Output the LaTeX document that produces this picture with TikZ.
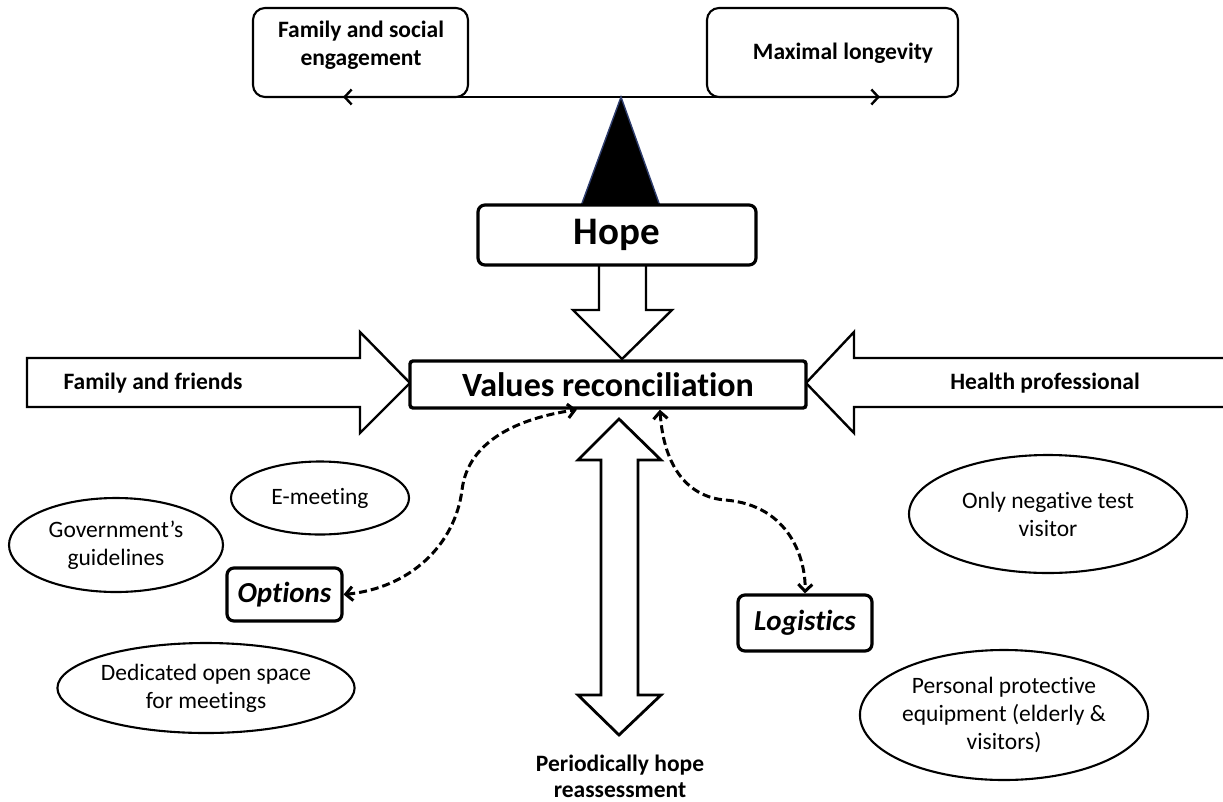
\documentclass[tikz,border=0pt]{standalone}
\usepackage{fontspec}
\setmainfont{Carlito}[Ligatures=NoCommon]
\usetikzlibrary{shapes.geometric,arrows.meta,calc}
\definecolor{tribd}{RGB}{47,62,110}
\begin{document}
\begin{tikzpicture}[x=1pt,y=-1pt,
  topbox/.style={draw, line width=2.1pt, rounded corners=12pt, inner sep=0pt},
  keybox/.style={draw, fill=white, line width=3.2pt, rounded corners=7pt, inner sep=0pt},
  oval/.style={draw, ellipse, line width=2.1pt, inner sep=0pt, align=center, font=\fontsize{23.5}{28}\selectfont},
  bigarrow/.style={draw, fill=white, line width=2.4pt, line join=miter},
  dashlink/.style={dash pattern=on 8pt off 4pt, line width=3pt, {Straight Barb[length=7pt,width=14pt]}-{Straight Barb[length=7pt,width=14pt]}},
  lbl/.style={font=\bfseries\fontsize{23.5}{26}\selectfont, align=center},
  keytxt/.style={font=\bfseries\itshape\fontsize{29}{34}\selectfont}]

\fill[white] (0,0) rectangle (1223,801);
\useasboundingbox (0,0) rectangle (1223,801);

% top balance
\node[topbox, minimum width=215pt, minimum height=89pt] (fse) at (360.5,52.5) {};
\node[lbl, font=\bfseries\fontsize{23.5}{28}\selectfont] (fsetxt) at (361,45) {Family and social\\engagement};
\node[topbox, minimum width=251pt, minimum height=89pt] (ml) at (832.5,52.5) {};
\node[lbl] (mltxt) at (843,53) {Maximal longevity};
\coordinate (beamL) at (343,97);
\coordinate (beamR) at (880,97);
\coordinate (pivot) at (621,97);
\draw[line width=2.4pt, {Straight Barb[length=7pt,width=15pt]}-{Straight Barb[length=7pt,width=15pt]}] (beamL) -- (beamR);
\filldraw[fill=black, draw=tribd, line width=1.4pt] (pivot) -- (581,206) -- (660,206) -- cycle;

% hope arrow down
\draw[bigarrow] (599,262) -- (599,310) -- (573,310) -- (622,359) -- (672,310) -- (646,310) -- (646,262);
\node[keybox, minimum width=278pt, minimum height=60pt, font=\bfseries\fontsize{39}{44}\selectfont] (hope) at (617,235) {Hope};

% side arrows
\draw[bigarrow] (27,358) -- (360,358) -- (360,332) -- (410,383) -- (360,433) -- (360,407) -- (27,407) -- cycle;
\node[lbl] (fftxt) at (153,383) {Family and friends};
\draw[bigarrow] (1232,358) -- (854,358) -- (854,332) -- (806,383) -- (854,433) -- (854,407) -- (1232,407);
\node[lbl] (hptxt) at (1045,383) {Health professional};

% values reconciliation
\node[draw, fill=white, line width=3.4pt, rounded corners=3pt, inner sep=0pt, minimum width=396pt, minimum height=47pt, font=\bfseries\fontsize{34}{40}\selectfont] (val) at (608,384.5) {Values reconciliation};

% vertical double arrow
\draw[bigarrow, line width=2.8pt] (619,419) -- (661,460) -- (638,460) -- (638,695) -- (661,695) -- (619,735) -- (578,695) -- (601,695) -- (601,460) -- (578,460) -- cycle;
\node[lbl] (phr) at (620,776) {Periodically hope\\reassessment};

% options / logistics
\node[keybox, minimum width=115pt, minimum height=53pt, keytxt] (opt) at (284.5,594.5) {Options};
\node[keybox, minimum width=134pt, minimum height=56pt, keytxt] (log) at (805,623) {Logistics};

\coordinate (vo) at ($(val.south west)!0.422!(val.south east)$);
\coordinate (vl) at ($(val.south west)!0.63!(val.south east)$);
\draw[dashlink] (opt.east) .. controls (410,588) and (455,545) .. (462,490) .. controls (468,440) and (520,418) .. (vo);
\draw[dashlink] (vl) .. controls (664,470) and (690,497) .. (725,500) .. controls (790,505) and (806,560) .. (log.north);

% ellipses
\node[oval, minimum width=178pt, minimum height=73pt] (emeet) at (320,498) {E-meeting};
\node[oval, minimum width=214pt, minimum height=94pt] (gov) at (116,545) {Government’s\\guidelines};
\node[oval, minimum width=270pt, minimum height=90pt] (dos) at (206,688) {Dedicated open space\\for meetings};
\node[oval, minimum width=278pt, minimum height=118pt] (ont) at (1048,514) {Only negative test\\visitor};
\node[oval, minimum width=278pt, minimum height=130pt] (ppe) at (1004,715) {Personal protective\\equipment (elderly \&\\visitors)};
\end{tikzpicture}
\end{document}
